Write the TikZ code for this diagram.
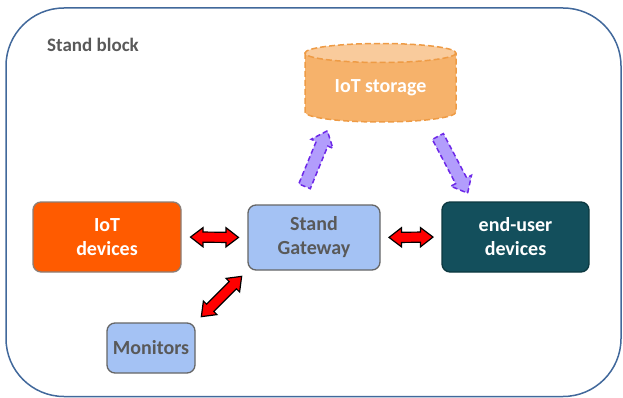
\documentclass[tikz,border=0pt]{standalone}
\usepackage{fontspec}
\setmainfont{Carlito}
\usetikzlibrary{shapes.arrows}
\definecolor{outerblue}{HTML}{41689B}
\definecolor{iotorange}{HTML}{FF5B00}
\definecolor{iotborder}{HTML}{8C7E76}
\definecolor{gwfill}{HTML}{A4C2F4}
\definecolor{gwborder}{HTML}{666666}
\definecolor{eufill}{HTML}{134F5C}
\definecolor{euborder}{HTML}{0C3840}
\definecolor{textgray}{HTML}{595959}
\definecolor{cylbody}{HTML}{F6B26B}
\definecolor{cyltop}{HTML}{F9CB9C}
\definecolor{cylline}{HTML}{EE9B45}
\definecolor{purfill}{HTML}{B29DFC}
\definecolor{purline}{HTML}{6D28E8}
\definecolor{arrowred}{HTML}{FF0000}
\begin{document}
\begin{tikzpicture}[x=1pt,y=-1pt,
  box/.style={rectangle, rounded corners=8pt, line width=1.3pt, align=center,
    font=\fontsize{20}{24}\selectfont\bfseries, inner sep=0pt},
  redarr/.style={double arrow, fill=arrowred, draw=black, line width=1.2pt,
    inner sep=0pt, inner ysep=4.5pt, double arrow head extend=4.5pt,
    double arrow tip angle=75, minimum height=#1, sloped},
  purarr/.style={single arrow, fill=purfill, draw=purline, dash pattern=on 5pt off 3pt,
    line width=1.5pt, inner sep=0pt, inner ysep=5.5pt, single arrow head extend=5.5pt,
    single arrow tip angle=80, minimum height=#1, sloped},
  cylstyle/.style={line width=1.5pt, draw=cylline, dash pattern=on 6pt off 3pt}
]
\useasboundingbox (0,0) rectangle (623,398);
% outer block
\draw[outerblue, line width=1.5pt, rounded corners=58pt] (6,8) rectangle (621,396.5);
\node[anchor=base west, inner sep=0pt, text=textgray, font=\fontsize{19}{22}\selectfont\bfseries] (title) at (47,52) {Stand block};

% storage cylinder
\path[fill=cylbody] (305,53) -- (305,112) arc[start angle=180, end angle=0, x radius=75.5, y radius=10] -- (456,53) -- cycle;
\draw[cylstyle] (305,53) -- (305,112) arc[start angle=180, end angle=0, x radius=75.5, y radius=10] -- (456,53);
\draw[cylstyle, fill=cyltop] (380.5,53) ellipse[x radius=75.5, y radius=9.5];
\node[text=white, font=\fontsize{20}{24}\selectfont\bfseries] (st) at (380.5,88) {IoT storage};

% boxes
\node[box, fill=iotorange, draw=iotborder, text=white, minimum width=148pt, minimum height=70pt] (iot) at (107,237) {IoT\\devices};
\node[box, fill=gwfill, draw=gwborder, text=textgray, minimum width=132pt, minimum height=65pt] (gw) at (314,237.5) {Stand\\Gateway};
\node[box, fill=eufill, draw=euborder, text=white, minimum width=147pt, minimum height=70pt] (eu) at (515.5,237) {end-user\\devices};
\node[box, fill=gwfill, draw=gwborder, text=textgray, minimum width=88pt, minimum height=50pt] (mon) at (151,348) {Monitors};

% red double arrows
\path (iot.east) -- (gw.west) node[midway, redarr=48pt] (r1) {};
\path (gw.east) -- (eu.west) node[midway, redarr=44pt] (r2) {};
\path (mon.north east) -- (gw.south west) node[midway, redarr=57pt] (r3) {};

% purple arrows
\coordinate (p1a) at (303,190);
\coordinate (p1b) at (326,134);
\coordinate (p2a) at (436,133);
\coordinate (p2b) at (466,190);
\path (p1a) -- (p1b) node[midway, purarr=60pt] (up) {};
\path (p2a) -- (p2b) node[midway, purarr=64pt] (down) {};
\end{tikzpicture}
\end{document}
